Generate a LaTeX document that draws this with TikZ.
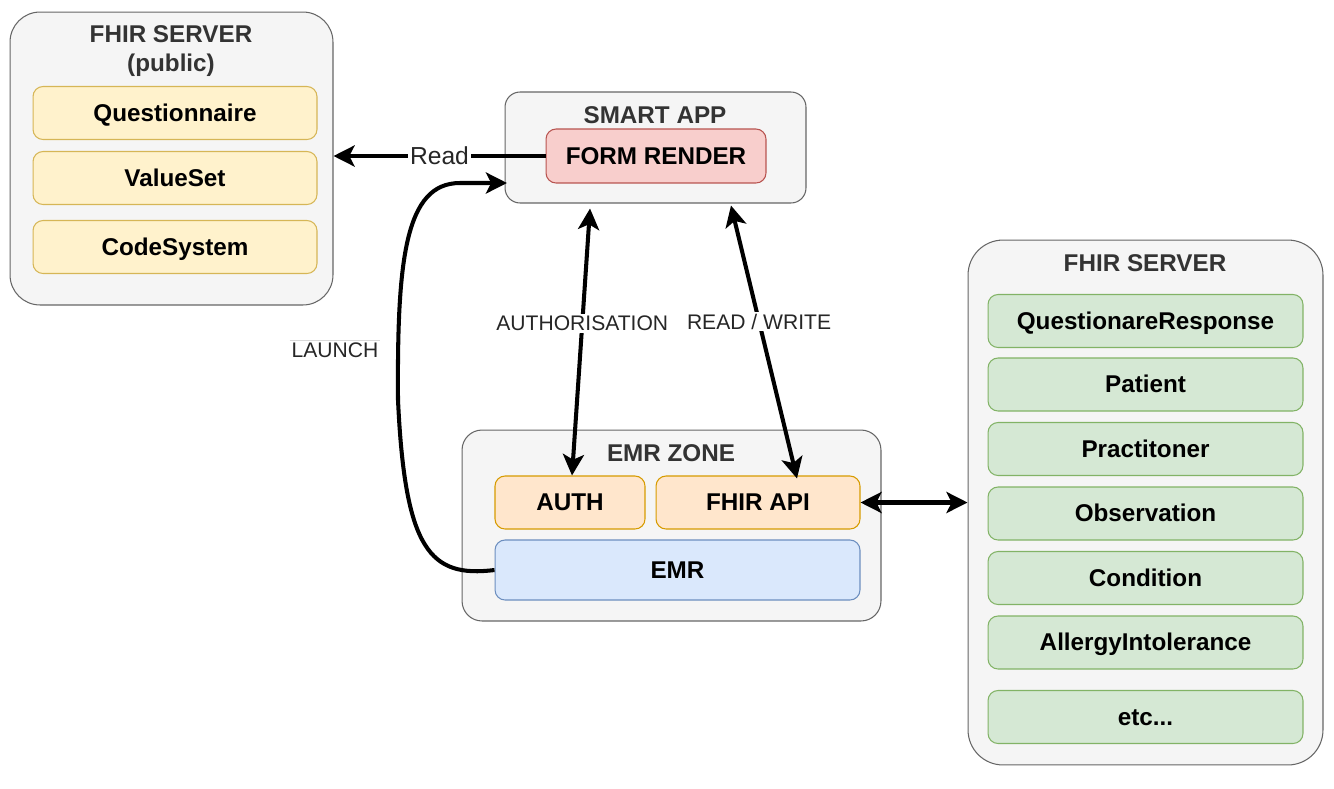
\documentclass[tikz,border=0pt]{standalone}
\usepackage{fontspec}
\setmainfont{Liberation Sans}
\usepackage{xcolor}
\usepackage{tikz}
\usetikzlibrary{arrows.meta}

\definecolor{zonefill}{HTML}{F5F5F5}
\definecolor{zoneline}{HTML}{666666}
\definecolor{titletext}{HTML}{333333}
\definecolor{yelfill}{HTML}{FFF2CC}
\definecolor{yelline}{HTML}{D6B656}
\definecolor{redfill}{HTML}{F8CECC}
\definecolor{redline}{HTML}{B85450}
\definecolor{orgfill}{HTML}{FFE6CC}
\definecolor{orgline}{HTML}{D79B00}
\definecolor{blufill}{HTML}{DAE8FC}
\definecolor{bluline}{HTML}{6C8EBF}
\definecolor{grnfill}{HTML}{D5E8D4}
\definecolor{grnline}{HTML}{82B366}

\begin{document}
\begin{tikzpicture}[x=0.02cm,y=-0.02cm,>={Stealth[length=12pt,width=12pt,inset=3pt]}]
    \tikzstyle{zone}=[draw=zoneline, fill=zonefill, line width=0.6pt, inner sep=0pt]
    \tikzstyle{title}=[text=titletext, font=\fontsize{13.8}{16.4}\selectfont\bfseries, align=center]
    \tikzstyle{box}=[rounded corners=0.2cm, line width=0.6pt, inner sep=0pt, minimum height=1.06cm, text height=0.95em, text depth=0em, font=\fontsize{13.8}{16.5}\selectfont\bfseries]
    \tikzstyle{yel}=[box, draw=yelline, fill=yelfill, minimum width=5.68cm]
    \tikzstyle{grn}=[box, draw=grnline, fill=grnfill, minimum width=6.3cm]
    \tikzstyle{org}=[box, draw=orgline, fill=orgfill]
    \tikzstyle{link}=[line width=2.3pt]
    \tikzstyle{lbl}=[fill=white, inner sep=1pt, text=black!85, font=\fontsize{12}{14}\selectfont]
    \useasboundingbox (0,0) rectangle (1334,788);

    % public server
    \node [zone, rounded corners=0.6cm, minimum width=6.46cm, minimum height=5.86cm] (pub) at (171.5,158.5) {};
    \node [title] (pubtitle) at (171,51) {FHIR SERVER\\(public)};
    \node [yel] (quest) at (175,113) {Questionnaire};
    \node [yel] (vset) at (175,178) {ValueSet};
    \node [yel] (csys) at (175,247) {CodeSystem};

    % smart app
    \node [zone, rounded corners=0.3cm, minimum width=6.02cm, minimum height=2.22cm] (smart) at (655.5,147.5) {};
    \node [title] (smarttitle) at (655,115) {SMART APP};
    \node [box, draw=redline, fill=redfill, minimum width=4.4cm, minimum height=1.08cm] (form) at (656,156) {FORM RENDER};

    % emr zone
    \node [zone, rounded corners=0.4cm, minimum width=8.38cm, minimum height=3.82cm] (zone) at (671.5,525.5) {};
    \node [title] (zonetitle) at (671,453) {EMR ZONE};
    \node [org, minimum width=3cm] (auth) at (570,502.5) {AUTH};
    \node [org, minimum width=4.08cm] (api) at (758,502.5) {FHIR API};
    \node [box, draw=bluline, fill=blufill, minimum width=7.3cm, minimum height=1.2cm] (emr) at (677.5,570) {EMR};

    % fhir server
    \node [zone, rounded corners=0.7cm, minimum width=7.1cm, minimum height=10.5cm] (srv) at (1145.5,502.5) {};
    \node [title] (srvtitle) at (1145,263) {FHIR SERVER};
    \node [grn] (qresp) at (1145.5,321) {QuestionareResponse};
    \node [grn] (pat) at (1145.5,384.5) {Patient};
    \node [grn] (prac) at (1145.5,449) {Practitoner};
    \node [grn] (obs) at (1145.5,513.5) {Observation};
    \node [grn] (cond) at (1145.5,578) {Condition};
    \node [grn] (allergy) at (1145.5,642.5) {AllergyIntolerance};
    \node [grn] (etc) at (1145.5,717) {etc...};

    % connectors
    \coordinate (launchin) at (507,183);
    \draw [link,->] (form.west) -- node [lbl, font=\fontsize{14}{16}\selectfont] {Read} (form.west -| pub.east);
    \draw [link,->] (emr.west) .. controls (430,578) and (405,550) .. (398,400)
        .. controls (397,260) and (405,183) .. (460,183) -- (launchin);
    \node [lbl] (launch) at (335,350) {LAUNCH};
    \draw [black!15, line width=0.5pt] (launch.north west) -- (launch.north east);
    \draw [link,<->] ([xshift=-1.31cm,yshift=-0.1cm]smart.south) -- node [lbl, pos=0.43] {AUTHORISATION} ([xshift=0.04cm]auth.north);
    \draw [link,<->] ([xshift=1.51cm,yshift=-0.04cm]smart.south) -- node [lbl, pos=0.425] {READ / WRITE} ([xshift=0.78cm,yshift=-0.06cm]api.north);
    \draw [link,<->] (api.east) -- (api.east -| srv.west);
\end{tikzpicture}
\end{document}
